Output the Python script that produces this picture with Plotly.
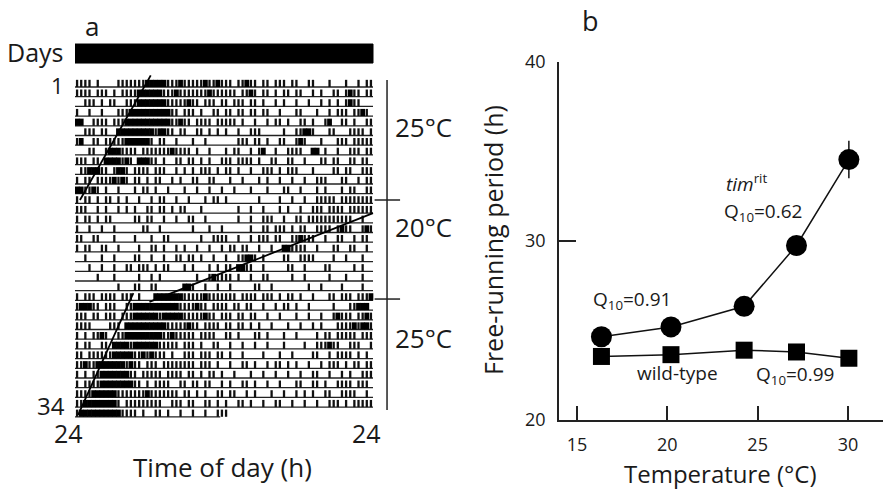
import plotly.graph_objects as go

W, H = 883, 490
FONT = "Open Sans"
TXT = "#1a1a1a"

# ---------------- Panel a: actogram data ----------------
N_BINS = 72                     # 20-min bins over 24 h
activity_rows = [
    "|||| |    |||||||#####|||#|||||#||#||| ||#|| || ||| ||  ||   |   |  | |||",
    "|||| ||| | ||||######|||#|||||||#|||||| ||#| || | || ||  | |  || |#|| ||",
    "  ||| | ||  |||#######|||||#|| ||| || ||| || |  | |  |  |  | | | |#||",
    "|  |  |   |||##########|| ||| |  || || || || ||  |   ||   |  | ||| ||#|",
    "##  |||| |||###########||#|| |||| ||||| |  |  | || |  || |  |#  || |  ||",
    "  ||| ||  #########|##|| ||  || | | |  |  |||     |  ||##|   ||   |||| |",
    "|#  || |||||######| ||  |   |  |       ||| || |  ||  |#|   |   ||| |||||",
    "   ||  |###|||| |||||||#|||| |  |   | ||  | |#  |  ||||  ## |  |  ||| ||",
    "||| || ####|#| ###|| |  || || | |  ||| |||| |  ||  ||  |   || ||  || || ",
    " ||###|| |##| |||| |||  | | | ||| | || |  |  ||| | |||   |    || ||  |||",
    "| || ||||#|#| || | ||  | |  ||  ||   |  |   | |  |  |  |  |||   ||  | ||",
    "##||#| |  |   | || |  |   |  |  |  |  |   |   |   ||  |   | |   | ||  ||",
    "| || | || | |  |  | ||  |  |   | || |       |    |  |  |  ||||| ||||||||",
    "|||  | |  | | |  || || | ||   |        |  |  |   | |  |  ||| |||| ||||||",
    "| || | ||     || ||  |  |  ||  |       |  |  |||  |  || |||||||||||  |  ",
    "|  |  |  |      ||  |       |   |  |      |  || ||| | ||  |||| |#||  |#|",
    "||  ||   |    |   |  ||       |  ||||  |  | ||| ||  ||#|||  |  ||  | ||  ",
    "| ||  ||  |    |  || |  | |  |  |  | || ||  |  |  ##||||  |   ||  ||  | ",
    "  |   |  |    ||  |  |  || || |  |  |  ||##| |    ||  ||||    |  |   |  ",
    "   |  |  |  || ||| | ||   | |   | | || ##||  |     ||  |    ||     | | ",
    "     |   |     |  | |        |  |#|||| |  |  ||     |  |     |   |   | ",
    "          |   ||  ||      ##|  |  |  |     ||  |        |  |    |    |  ",
    "| ||| |||| ||| |   #######|||||#||||||| |||| ||| | || |  |   || ||| |||#",
    "|###|| |||  ||###########||||#|| |||| || ||  |  | || |  |     |   ||###",
    "||| || ||| |||######|#####|||||#|| ||| || ||  |  |   |  |  |  |#||| ||#|",
    "||||    ||| ##########|||||#|| |||| || || | |  |   |  |  | |   ||||#|##|",
    "| | ||#|  ||#########||#||||| ||||  || |   || |   |  |    | || ||||| |||",
    "| ||  || ####|######||||| ||| |  ||  |  |  |  |   |    |  |||#||  |||  |",
    "|| ||||||#####||#|#||| |  ||| ||| || |  |    |   |  |    ||  | |||| | |",
    "||#||#######|#|| ||| |||||||| ||| |  |  || |  | || | |  |  | ||| | || ||",
    "| | ||#######|| ||||| |||| || | || |  |   |  |  |  |  |  ||  |  | |  |||",
    "| ||||########|| | ||||  || || ||  | |  || |  |  |   ||  || |  |||| |||",
    "||||######|||||||#||||||| || | |  || ||  | |   |  |  | | |  ||  ||||  | ",
    "||########| |||||||||  ||| ||  || | |  || |  |  ||  |  |  |  ||| | |||||",
    "|##########|||| |  || |  |  |  |  |||",
]
record_end_hour = 11.7          # last (partial) day stops here
dark_phase = [0, 24]            # constant darkness bar (hours)

# activity-onset fit lines: (hour, day)
onset_line_hours = [[6.1, 0.4], [6.0, 24.0], [4.7, 0.25]]
onset_line_days = [[-1.2, 11.65], [22.15, 13.0], [21.25, 33.8]]

temp_labels = ["25°C", "20°C", "25°C"]
temp_label_days = [4.1, 14.4, 25.9]
temp_boundaries = [11.65, 21.86]
temp_span_days = [-0.72, 33.3]

# ---------------- Panel b data ----------------
temps = [16.35, 20.2, 24.25, 27.15, 30.05]
period_timrit = [24.65, 25.2, 26.35, 29.75, 34.55]
err_timrit = [0.3, 0.3, 0.3, 0.4, 1.05]
period_wt = [23.55, 23.65, 23.9, 23.8, 23.45]
x_ticks = [15, 20, 25, 30]
y_ticks = [20, 30, 40]

# ---------------- helpers ----------------
def px(x):
    return x / W

def py(y):
    return 1 - y / H

fig = go.Figure()

# activity ticks
TICK_H = 0.74
thin_x, thin_y, solid_x, solid_y = [], [], [], []
base_x, base_y = [], []
n_rows = len(activity_rows)
for k, row in enumerate(activity_rows):
    row = row.ljust(N_BINS)[:N_BINS]
    for b, ch in enumerate(row):
        h = (b + 0.5) * 24 / N_BINS
        if ch == "|":
            thin_x += [h, h, None]
            thin_y += [k, k - TICK_H, None]
        elif ch == "#":
            solid_x += [h, h, None]
            solid_y += [k, k - TICK_H, None]
    end_h = 24 if k < n_rows - 1 else record_end_hour
    base_x += [0, end_h, None]
    base_y += [k, k, None]

fig.add_trace(go.Scatter(x=base_x, y=base_y, mode="lines",
                         line=dict(color="#222", width=1.3),
                         xaxis="x", yaxis="y", hoverinfo="skip"))
fig.add_trace(go.Scatter(x=thin_x, y=thin_y, mode="lines",
                         line=dict(color="#111", width=2.3),
                         xaxis="x", yaxis="y", hoverinfo="skip"))
fig.add_trace(go.Scatter(x=solid_x, y=solid_y, mode="lines",
                         line=dict(color="#000", width=4.8),
                         xaxis="x", yaxis="y", hoverinfo="skip"))
# dark bar
bar_top, bar_bot = -4.43, -2.47
fig.add_trace(go.Scatter(x=[dark_phase[0], dark_phase[1], dark_phase[1], dark_phase[0], dark_phase[0]],
                         y=[bar_top, bar_top, bar_bot, bar_bot, bar_top],
                         mode="lines", fill="toself", fillcolor="#000",
                         line=dict(color="#000", width=1),
                         xaxis="x", yaxis="y", hoverinfo="skip"))
# onset lines
for hx, dy in zip(onset_line_hours, onset_line_days):
    fig.add_trace(go.Scatter(x=hx, y=dy, mode="lines",
                             line=dict(color="#000", width=1.8),
                             xaxis="x", yaxis="y", hoverinfo="skip"))
# temperature bracket
TX = 25.13
fig.add_trace(go.Scatter(x=[TX, TX], y=temp_span_days, mode="lines",
                         line=dict(color="#222", width=1.5),
                         xaxis="x", yaxis="y", hoverinfo="skip"))
for d in temp_boundaries:
    fig.add_trace(go.Scatter(x=[TX - 1.0, TX + 1.05], y=[d, d], mode="lines",
                             line=dict(color="#222", width=1.5),
                             xaxis="x", yaxis="y", hoverinfo="skip"))

# ---------------- Panel b traces ----------------
fig.add_trace(go.Scatter(x=temps, y=period_timrit, mode="lines+markers",
                         line=dict(color="#111", width=1.5),
                         marker=dict(symbol="circle", size=21, color="#000"),
                         error_y=dict(type="data", array=err_timrit, width=0,
                                      thickness=1.5, color="#111"),
                         xaxis="x2", yaxis="y2", name="timrit"))
fig.add_trace(go.Scatter(x=temps, y=period_wt, mode="lines+markers",
                         line=dict(color="#111", width=1.5),
                         marker=dict(symbol="square", size=17, color="#000"),
                         xaxis="x2", yaxis="y2", name="wild-type"))

# ---------------- axes ----------------
y_top_px, y_bot_px = 40, 440
fig.update_layout(
    width=W, height=H,
    margin=dict(l=0, r=0, t=0, b=0, pad=0, autoexpand=False),
    paper_bgcolor="white", plot_bgcolor="white", showlegend=False,
    font=dict(family=FONT, color=TXT),
    xaxis=dict(domain=[px(75), px(410)], range=[0, 24 * 335 / 298],
               visible=False, fixedrange=True, automargin=False),
    yaxis=dict(domain=[py(y_bot_px), py(y_top_px)],
               range=[(y_bot_px - 87) / 9.7, (y_top_px - 87) / 9.7],
               visible=False, fixedrange=True, automargin=False),
    xaxis2=dict(domain=[px(559), 1.0], range=[14.0, 31.94], anchor="y2",
                tickvals=x_ticks, ticks="inside", ticklen=14, tickwidth=1.5,
                tickcolor="#222", showline=True, linecolor="#222", linewidth=1.5,
                showgrid=False, zeroline=False, ticklabelstandoff=8,
                automargin=False,
                tickfont=dict(size=18, color=TXT, family=FONT)),
    yaxis2=dict(domain=[py(420), py(62)], range=[20, 40], anchor="x2",
                tickvals=y_ticks, ticks="inside", ticklen=17, tickwidth=1.5,
                tickcolor="#222", showline=True, linecolor="#222", linewidth=1.5,
                showgrid=False, zeroline=False, ticklabelstandoff=8,
                automargin=False,
                tickfont=dict(size=18, color=TXT, family=FONT)),
)

# ---------------- text ----------------
def txt(x, y, s, size, xanchor="center", angle=0):
    fig.add_annotation(x=px(x), y=py(y), xref="paper", yref="paper", text=s,
                       showarrow=False, xanchor=xanchor, yanchor="middle",
                       textangle=angle, borderpad=0,
                       font=dict(size=size, family=FONT, color=TXT))

txt(92, 26, "a", 26)
txt(590, 21, "b", 27)
txt(35, 52, "Days", 25)
txt(57, 85, "1", 22)
txt(51, 405, "34", 24)
txt(68, 433, "24", 25)
txt(366, 433, "24", 25)
txt(222, 467, "Time of day (h)", 26)
for lab, d in zip(temp_labels, temp_label_days):
    fig.add_annotation(x=TX + 0.55, y=d, xref="x", yref="y", text=lab,
                       showarrow=False, xanchor="left", yanchor="middle",
                       borderpad=0,
                       font=dict(size=26, family=FONT, color=TXT))

txt(493, 240, "Free-running period (h)", 25, angle=-90)
txt(720, 473, "Temperature (°C)", 24)
txt(632, 300, "Q<sub>10</sub>=0.91", 19)
txt(725, 183, "<i>tim</i><sup>rit</sup>", 19, xanchor="left")
txt(723, 212, "Q<sub>10</sub>=0.62", 19, xanchor="left")
txt(677, 373, "wild-type", 19)
txt(755, 375, "Q<sub>10</sub>=0.99", 19, xanchor="left")

fig.write_html("out.html")
